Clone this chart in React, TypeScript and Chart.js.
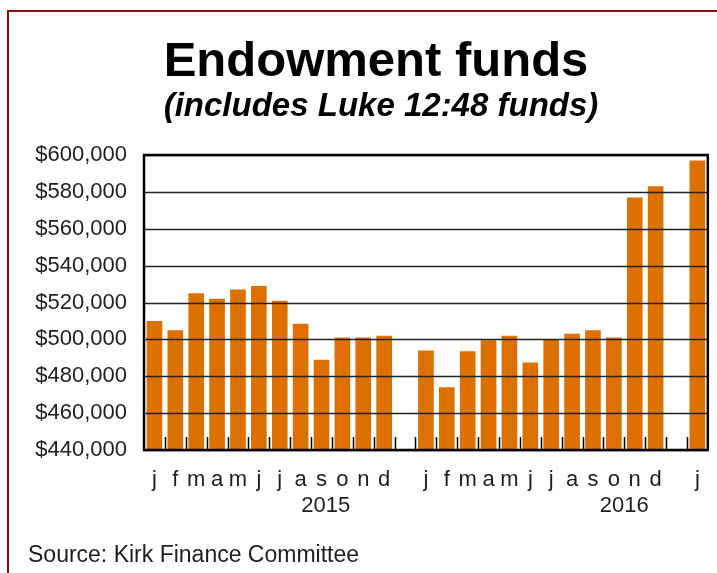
import React, { useEffect, useRef } from "react";
import { Chart, registerables } from "chart.js";

Chart.register(...registerables);

const categories = [
  "j", "f", "m", "a", "m", "j", "j", "a", "s", "o", "n", "d",
  "",
  "j", "f", "m", "a", "m", "j", "j", "a", "s", "o", "n", "d",
  "",
  "j",
];

const fundValues: (number | null)[] = [
  510000, 505000, 525000, 522000, 527000, 529000, 521000, 508500, 489000, 501000, 501000, 502000,
  null,
  494000, 474000, 493500, 499500, 502000, 487500, 500000, 503000, 505000, 501000, 577000, 583000,
  null,
  597000,
];

const yearLabels = ["2015", "2016"];
const yTickValues = [440000, 460000, 480000, 500000, 520000, 540000, 560000, 580000, 600000];

const titleText = "Endowment funds";
const subtitleText = "(includes Luke 12:48 funds)";
const sourceText = "Source: Kirk Finance Committee";

const FONT = '"Liberation Sans", Arial, Helvetica, sans-serif';

const decorPlugin = {
  id: "decor",
  beforeDraw(chart: any) {
    const { ctx, width, height } = chart;
    ctx.save();
    ctx.fillStyle = "#ffffff";
    ctx.fillRect(0, 0, width, height);
    ctx.strokeStyle = "#8b0a0a";
    ctx.lineWidth = 2;
    ctx.strokeRect(8, 11, width + 40, height + 40);
    ctx.restore();
  },
  afterDatasetsDraw(chart: any) {
    const { ctx, chartArea, scales } = chart;
    const y = scales.y;
    const x = scales.x;
    ctx.save();
    // gridlines on top of bars
    ctx.strokeStyle = "#222222";
    ctx.lineWidth = 1.4;
    y.ticks.forEach((t: any) => {
      const py = Math.round(y.getPixelForValue(t.value)) + 0.5;
      ctx.beginPath();
      ctx.moveTo(chartArea.left, py);
      ctx.lineTo(chartArea.right, py);
      ctx.stroke();
    });
    // inner tick marks at category boundaries
    ctx.strokeStyle = "#000000";
    ctx.lineWidth = 1.5;
    for (let i = 1; i < categories.length; i++) {
      const px = Math.round(x.getPixelForValue(i - 0.5)) + 0.5;
      ctx.beginPath();
      ctx.moveTo(px, chartArea.bottom);
      ctx.lineTo(px, chartArea.bottom - 13);
      ctx.stroke();
    }
    // frame
    ctx.strokeStyle = "#000000";
    ctx.lineWidth = 2.5;
    ctx.strokeRect(chartArea.left, chartArea.top, chartArea.right - chartArea.left, chartArea.bottom - chartArea.top);
    ctx.restore();
  },
  afterDraw(chart: any) {
    const { ctx, scales } = chart;
    const x = scales.x;
    ctx.save();
    ctx.textAlign = "center";
    ctx.textBaseline = "alphabetic";
    ctx.fillStyle = "#000000";
    ctx.font = `bold 49px ${FONT}`;
    ctx.fillText(titleText, 376, 76);
    ctx.font = `italic bold 33px ${FONT}`;
    ctx.fillText(subtitleText, 381, 116);

    ctx.fillStyle = "#1e1e1e";
    ctx.font = `22px ${FONT}`;
    const yearAnchors = [8.2, 22.5];
    yearLabels.forEach((lbl, i) => {
      ctx.fillText(lbl, x.getPixelForValue(yearAnchors[i]), 512);
    });

    ctx.textAlign = "left";
    ctx.font = `23px ${FONT}`;
    ctx.fillText(sourceText, 28, 562);
    ctx.restore();
  },
};

export default function App() {
  const canvasRef = useRef<HTMLCanvasElement | null>(null);

  useEffect(() => {
    if (!canvasRef.current) return;
    const chart = new Chart(canvasRef.current, {
      type: "bar",
      data: {
        labels: categories,
        datasets: [
          {
            label: "Endowment funds",
            data: fundValues,
            backgroundColor: "#de7000",
            borderWidth: 0,
            barPercentage: 0.75,
            categoryPercentage: 1,
          },
        ],
      },
      options: {
        responsive: false,
        animation: false,
        layout: { padding: { left: 0, top: 155, right: 9, bottom: 0 } },
        plugins: {
          legend: { display: false },
          tooltip: { enabled: false },
          title: { display: false },
        },
        scales: {
          x: {
            type: "category",
            offset: true,
            grid: { display: false, drawTicks: false },
            border: { display: false },
            ticks: {
              autoSkip: false,
              maxRotation: 0,
              minRotation: 0,
              padding: 17,
              color: "#1e1e1e",
              font: { family: FONT, size: 22 },
            },
            afterFit(scale: any) {
              scale.height = 123;
            },
          },
          y: {
            min: 440000,
            max: 600000,
            afterBuildTicks(scale: any) {
              scale.ticks = yTickValues.map((v) => ({ value: v }));
            },
            grid: { display: false, drawTicks: false },
            border: { display: false },
            ticks: {
              padding: 17,
              color: "#1e1e1e",
              font: { family: FONT, size: 22 },
              callback: (v: any) => "$" + Number(v).toLocaleString("en-US"),
            },
            afterFit(scale: any) {
              scale.width = 144;
            },
          },
        },
      },
      plugins: [decorPlugin],
    });
    return () => chart.destroy();
  }, []);

  return (
    <div style={{ position: "fixed", left: 0, top: 0, width: 717, height: 573, overflow: "hidden", background: "#fff" }}>
      <canvas ref={canvasRef} width={717} height={573} style={{ display: "block" }} />
    </div>
  );
}
